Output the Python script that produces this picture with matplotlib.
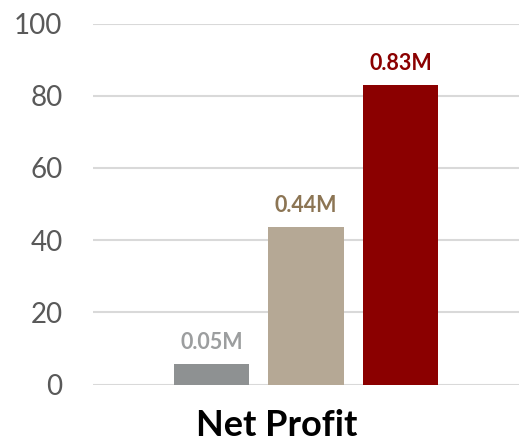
import matplotlib.pyplot as plt

# values
series = ["a", "b", "c"]
values = [5.7, 43.6, 82.9]
labels = ["0.05M", "0.44M", "0.83M"]
bar_colors = ["#8E9192", "#B5A895", "#8B0000"]
label_colors = ["#9C9E9F", "#8C7554", "#8B0000"]
yticks = [0, 20, 40, 60, 80, 100]
category = "Net Profit"

plt.rcParams['font.family'] = ['Lato', 'DejaVu Sans']

fig = plt.figure(figsize=(5.21, 4.42), dpi=100)
ax = fig.add_axes([93/521, 57.5/442, 426/521, 361/442])

pos = [-1, 0, 1]
bars = ax.bar(pos, values, width=0.794, color=bar_colors, zorder=2)
for b, lab, c in zip(bars, labels, label_colors):
    ax.annotate(lab, (b.get_x() + b.get_width()/2, b.get_height()),
                xytext=(0, 8), textcoords="offset points", ha="center", va="bottom",
                fontsize=15.5, fontweight="bold", color=c)

ax.set_xlim(-2.254, 2.254)
ax.set_ylim(0, 100)
ax.set_yticks(yticks)
ax.set_xticks([])
ax.tick_params(axis="y", length=0, pad=22, labelsize=20, labelcolor="#595959")
ax.grid(axis="y", color="#D9D9D9", linewidth=1.5, zorder=0)
for s in ax.spines.values():
    s.set_visible(False)

fig.text(277/521, 6/442, category, ha="center", va="baseline",
         fontsize=26, fontweight="bold", color="black")

fig.savefig("out.png", dpi=100)
